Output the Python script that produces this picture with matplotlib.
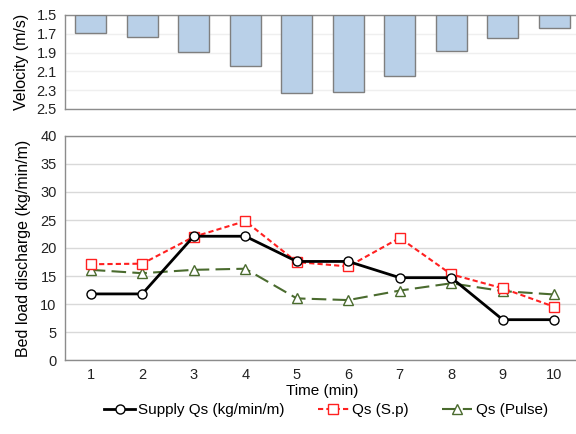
import matplotlib
matplotlib.use("Agg")
import matplotlib.pyplot as plt
import numpy as np

plt.rcParams['font.family'] = ['Liberation Sans', 'DejaVu Sans']

time_min = [1, 2, 3, 4, 5, 6, 7, 8, 9, 10]
velocity = [1.69, 1.735, 1.89, 2.04, 2.335, 2.32, 2.15, 1.885, 1.74, 1.64]
supply_qs = [11.8, 11.8, 22.1, 22.1, 17.6, 17.6, 14.7, 14.7, 7.2, 7.2]
qs_sp = [17.1, 17.2, 22.0, 24.8, 17.5, 16.7, 21.8, 15.3, 12.8, 9.5]
qs_pulse = [16.1, 15.5, 16.1, 16.3, 11.0, 10.7, 12.4, 13.7, 12.3, 11.7]

grid_c = '#d9d9d9'
spine_c = '#8c8c8c'

fig = plt.figure(figsize=(5.76, 4.34), dpi=100)
W, H = 576, 434
ax1 = fig.add_axes([65/W, 1 - 109/H, 515/W, (109-15)/H])
ax2 = fig.add_axes([65/W, 1 - 360/H, 515/W, (360-136)/H])

# velocity bars hanging from 1.5
base = 1.5
ax1.bar(time_min, [v - base for v in velocity], bottom=base, width=0.61,
        color='#b9d0e8', edgecolor='#7f7f7f', linewidth=1.0, zorder=3)
ax1.set_ylim(2.5, 1.5)
ax1.set_yticks(np.arange(1.5, 2.51, 0.2))
ax1.set_yticklabels(['1.5', '1.7', '1.9', '2.1', '2.3', '2.5'])
ax1.set_xlim(0.5, 10.5)
ax1.set_xticks([])
ax1.set_ylabel('Velocity (m/s)', fontsize=11.5, labelpad=5)
ax1.yaxis.grid(True, color='#efefef', linewidth=1.0, zorder=0)

# bed load discharge lines
ms = 6.5
ax2.plot(time_min, supply_qs, color='black', linewidth=2.0, marker='o',
         markersize=ms, markerfacecolor='white', markeredgecolor='black',
         markeredgewidth=1.0, label='Supply Qs (kg/min/m)', zorder=5)
ax2.plot(time_min, qs_sp, color='#ff2020', linewidth=1.5, linestyle=(0, (2.5, 1.5)),
         marker='s', markersize=ms, markerfacecolor='white', markeredgecolor='#ff2020',
         markeredgewidth=1.0, label='Qs (S.p)', zorder=4)
ax2.plot(time_min, qs_pulse, color='#4a6b2e', linewidth=1.5, linestyle=(0, (7, 3)),
         marker='^', markersize=ms, markerfacecolor='white', markeredgecolor='#4a6b2e',
         markeredgewidth=1.0, label='Qs (Pulse)', zorder=3)
ax2.set_ylim(0, 40)
ax2.set_yticks(range(0, 41, 5))
ax2.set_xlim(0.5, 10.5)
ax2.set_xticks(time_min)
ax2.set_xlabel('Time (min)', fontsize=11, labelpad=1)
ax2.set_ylabel('Bed load discharge (kg/min/m)', fontsize=11.5, labelpad=7)
ax2.yaxis.grid(True, color=grid_c, linewidth=1.0, zorder=0)

for ax in (ax1, ax2):
    ax.set_axisbelow(True)
    ax.tick_params(axis='both', length=0, labelsize=10.5, colors='#222222', pad=6)
    ax.spines['right'].set_visible(False)
    for s in ('left', 'top', 'bottom'):
        ax.spines[s].set_color(spine_c)
        ax.spines[s].set_linewidth(1.0)

fig.legend(loc='center', bbox_to_anchor=(0.566, 1 - 410/H), ncol=3, frameon=False,
           fontsize=11, handlelength=2.0, handletextpad=0.2, columnspacing=2.2)

fig.savefig('out.png', dpi=100)
